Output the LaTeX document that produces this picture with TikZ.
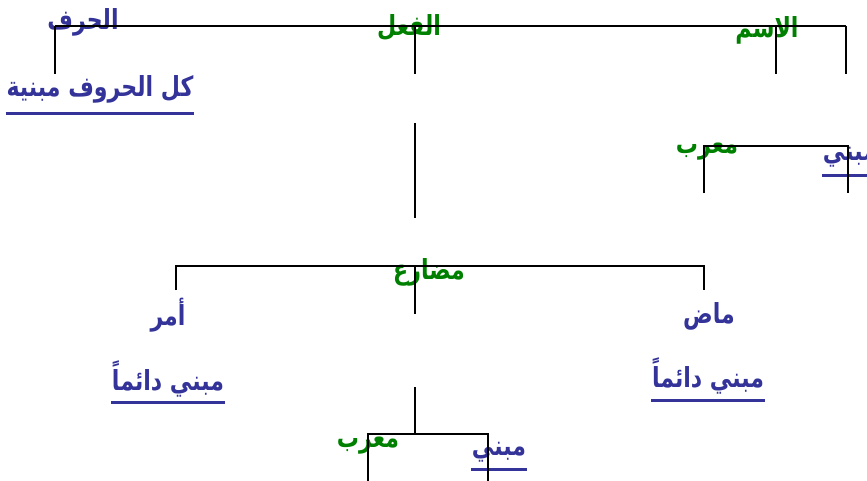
\documentclass[tikz,border=0pt]{standalone}
\usepackage{fontspec}
\usepackage{color}
\usetikzlibrary{calc}
\newfontfamily\arabicfont[Script=Arabic]{DejaVu Sans}
\TeXXeTstate=1
\definecolor{arblue}{RGB}{51,51,153}
\definecolor{argreen}{RGB}{0,128,0}
%stretched Arabic word
\newcommand*{\arword}[1]{\scalebox{0.92}[1.15]{\beginR #1\endR}}

\begin{document}
\begin{tikzpicture}[x=0.75pt,y=-0.75pt,
  blueword/.style={text=arblue,inner xsep=0.5pt,inner ysep=2pt,font=\arabicfont\bfseries\fontsize{18}{21}\selectfont},
  greenword/.style={text=argreen,inner xsep=0.5pt,inner ysep=2pt,font=\arabicfont\bfseries\fontsize{18}{21}\selectfont},
  branch/.style={line width=1.5pt},
  uline/.style={draw=arblue,line width=2.2pt}]
\useasboundingbox (0,0) rectangle (867,481);
%words
\node[blueword] (harf) at (83,22) {\arword{الحرف}};
\node[greenword] (fil) at (409,28) {\arword{الفعل}};
\node[greenword] (ism) at (767,30) {\arword{الاسم}};
\node[blueword] (kul) at (100,89) {\arword{كل الحروف مبنية}};
\node[greenword] (murabA) at (707,152) {\arword{معرب}};
\node[blueword] (mabniA) at (850,157) {\arword{مبني}};
\node[greenword] (mudari) at (429,272) {\arword{مضارع}};
\node[blueword] (amr) at (168,315) {\arword{أمر}};
\node[blueword] (madi) at (709,316) {\arword{ماض}};
\node[blueword] (daimA) at (168,379) {\arword{مبني دائماً}};
\node[blueword] (daimB) at (708,376) {\arword{مبني دائماً}};
\node[greenword] (murabB) at (368,446) {\arword{معرب}};
\node[blueword] (mabniB) at (499,452) {\arword{مبني}};
%underlines
\foreach \w/\d in {kul/8,mabniA/6,daimA/3,daimB/4,mabniB/5}
  \draw[uline] ($(\w.south west)+(0,\d)$) -- ($(\w.south east)+(0,\d)$);
%top level
\coordinate (topA) at (55,26); \coordinate (topB) at (415,26);
\coordinate (topC) at (776,26); \coordinate (topD) at (846,26);
\draw[branch] (topA) -- (topD);
\foreach \t in {A,B,C,D}
  \draw[branch] (top\t) -- ++(0,48);
%verb stem
\coordinate (stemA) at (415,123); \coordinate (stemB) at (415,218);
\draw[branch] (stemA) -- (stemB);
%noun split
\coordinate (isA) at (704,193); \coordinate (isM) at (776,146); \coordinate (isB) at (848,193);
\draw[branch] (isA) |- (isM) -| (isB);
%verb tenses
\coordinate (tnA) at (176,290); \coordinate (tnM) at (415,266);
\coordinate (tnB) at (704,290); \coordinate (tnC) at (415,314);
\draw[branch] (tnA) |- (tnM) -| (tnB);
\draw[branch] (tnM) -- (tnC);
%present split
\coordinate (prA) at (415,387); \coordinate (prM) at (415,434);
\coordinate (prL) at (368,481); \coordinate (prR) at (488,481);
\draw[branch] (prA) -- (prM);
\draw[branch] (prL) |- (prM) -| (prR);
\end{tikzpicture}
\end{document}
